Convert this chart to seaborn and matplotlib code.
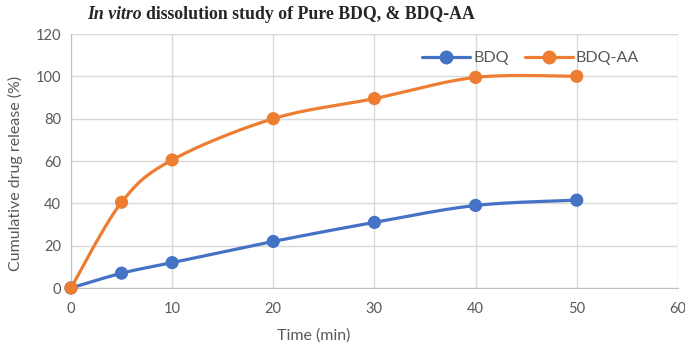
import numpy as np
import pandas as pd
import matplotlib
matplotlib.use("Agg")
import matplotlib.pyplot as plt
import seaborn as sns

# data
time_min = [0, 5, 10, 20, 30, 40, 50]
bdq = [0, 7, 12, 22, 31, 39, 41.5]
bdq_aa = [0, 40.5, 60.5, 80, 89.5, 99.5, 100]
series_names = ["BDQ", "BDQ-AA"]
colors = {"BDQ": "#4472C4", "BDQ-AA": "#ED7D31"}


def smooth(x, y, n=30):
    # Excel-like smoothed line: cubic Bezier through the points
    p = np.column_stack([x, y]).astype(float)
    pts = np.vstack([p[0], p, p[-1]])
    out = []
    t = np.linspace(0, 1, n)[:, None]
    for i in range(1, len(pts) - 2):
        p0, p1, p2, p3 = pts[i - 1], pts[i], pts[i + 1], pts[i + 2]
        c1 = p1 + (p2 - p0) / 6
        c2 = p2 - (p3 - p1) / 6
        seg = ((1 - t) ** 3) * p1 + 3 * ((1 - t) ** 2) * t * c1 + 3 * (1 - t) * t ** 2 * c2 + t ** 3 * p2
        out.append(seg if i == 1 else seg[1:])
    out = np.vstack(out)
    return out[:, 0], out[:, 1]


df = pd.DataFrame({
    "Time": time_min * 2,
    "Release": bdq + bdq_aa,
    "Series": ["BDQ"] * len(time_min) + ["BDQ-AA"] * len(time_min),
})

sns.set_style("white")
plt.rcParams["font.family"] = ["Lato", "DejaVu Sans"]

fig = plt.figure(figsize=(6.85, 3.46), dpi=100)
ax = fig.add_axes([0.1036, 0.1676, 0.886, 0.7341])

for name, vals in zip(series_names, [bdq, bdq_aa]):
    sx, sy = smooth(time_min, vals)
    ax.plot(sx, sy, color=colors[name], lw=2.3, zorder=3)

sns.scatterplot(data=df, x="Time", y="Release", hue="Series", palette=colors,
                s=90, edgecolor="none", legend=False, ax=ax, zorder=4)

ax.set_xlim(0, 60)
ax.set_ylim(0, 120)
ax.set_xticks(range(0, 61, 10))
ax.set_yticks(range(0, 121, 20))
ax.grid(True, color="#D9D9D9", lw=1)
for side in ["top", "right"]:
    ax.spines[side].set_visible(False)
for side in ["left", "bottom"]:
    ax.spines[side].set_color("#BFBFBF")
ax.tick_params(colors="#595959", labelsize=10.5, length=0)
ax.tick_params(axis="x", pad=10)
ax.tick_params(axis="y", pad=7)
ax.set_xlabel("")
ax.set_ylabel("")
for c in ax.collections:
    c.set_clip_on(False)

# legend
handles = [plt.Line2D([], [], color=colors[n], lw=2.3, marker="o", ms=9) for n in series_names]
ax.legend(handles, series_names, loc="upper right", bbox_to_anchor=(0.96, 0.99), ncol=2,
          frameon=False, fontsize=11.5, labelcolor="#595959", handlelength=3,
          columnspacing=1.0, handletextpad=0.2)

fig.text(0.458, 0.01, "Time (min)", ha="center", va="bottom", color="#595959", fontsize=11.5)
fig.text(0.012, 0.5, "Cumulative drug release (%)", rotation=90, ha="left", va="center",
         color="#595959", fontsize=11.5)

# title with italic part
t1 = fig.text(0.127, 0.945, "In vitro", fontfamily="Liberation Serif", fontstyle="italic",
              fontweight="bold", fontsize=12.8, ha="left", va="baseline")
fig.canvas.draw()
bb = t1.get_window_extent()
x2 = (bb.x1 + 4) / fig.bbox.width
fig.text(x2, 0.945, "dissolution study of Pure BDQ, & BDQ-AA", fontfamily="Liberation Serif",
         fontweight="bold", fontsize=12.8, ha="left", va="baseline")

fig.savefig("out.png", dpi=100, facecolor="white")
